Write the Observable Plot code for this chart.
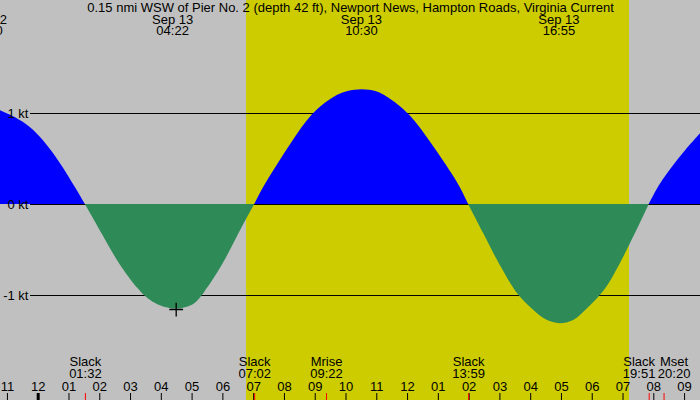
<!DOCTYPE html>
<html><head><meta charset="utf-8">
<script src="https://cdn.jsdelivr.net/npm/d3@7"></script>
<script src="https://cdn.jsdelivr.net/npm/@observablehq/plot@0.6"></script>
<style>html,body{margin:0;padding:0;background:#c0c0c0;overflow:hidden}</style>
</head><body><div id="chart"></div>
<script>
const title = "0.15 nmi WSW of Pier No. 2 (depth 42 ft), Newport News, Hampton Roads, Virginia Current";

// time in hours relative to Sep 13 00:00 (negative = Sep 12), current speed in knots
const times  = [-1.225, -0.25, 0.617, 1.267, 1.533,
                2.079, 2.674, 3.398, 3.811, 4.0, 4.483, 4.95, 5.11, 5.348, 5.978, 6.51, 7.033,
                7.44, 8.25, 8.87, 9.659, 10.05, 10.526, 11.0, 11.284, 12.095, 12.745, 13.613, 13.983,
                14.477, 14.913, 15.289, 15.582, 16.101, 16.48, 16.968, 17.45, 17.781, 18.291, 18.626, 18.973, 19.405, 19.85,
                20.2, 20.598, 21.03, 21.517];
const speeds = [1.03, 0.887, 0.52, 0.154, 0,
                -0.322, -0.689, -1.0, -1.091, -1.12, -1.163, -1.12, -1.091, -1.0, -0.689, -0.322, 0,
                0.264, 0.685, 1.0, 1.198, 1.245, 1.27, 1.245, 1.198, 1.0, 0.685, 0.264, 0,
                -0.322, -0.615, -0.835, -1.0, -1.165, -1.279, -1.325, -1.28, -1.165, -1.0, -0.835, -0.615, -0.322, 0,
                0.227, 0.41, 0.593, 0.777];

// visible time window
const timeDomain = [-1.225, 21.517];
const speedDomain = [-2.1538, 2.2418];

// daylight
const sunrise = 6.768, sunset = 19.211;

// reference lines
const refLines = [1, 0, -1];
const refLabels = ["1 kt", "0 kt", "-1 kt"];

// hour ticks
const hourValues = [-1,0,1,2,3,4,5,6,7,8,9,10,11,12,13,14,15,16,17,18,19,20,21];
const hourLabels = ["11","12","01","02","03","04","05","06","07","08","09","10","11","12","01","02","03","04","05","06","07","08","09"];

// max current labels (top)
const maxTimes  = [-1.683, 4.367, 10.5, 16.917];
const maxDates  = ["Sep 12", "Sep 13", "Sep 13", "Sep 13"];
const maxLabels = ["22:20", "04:22", "10:30", "16:55"];

// events (bottom)
const eventTimes  = [1.533, 7.033, 9.367, 13.983, 19.85, 20.333];
const eventNames  = ["Slack", "Slack", "Mrise", "Slack", "Slack", "Mset"];
const eventLabels = ["01:32", "07:02", "09:22", "13:59", "19:51", "20:20"];

// marker
const markerTime = 4.483, markerSpeed = -1.154;

// ---- build segments between slacks
const data = [];
let seg = 0;
times.forEach((t, i) => {
  data.push({t, v: speeds[i], seg});
  if (speeds[i] === 0 && i > 0 && i < times.length - 1) {
    seg++;
    data.push({t, v: speeds[i], seg});
  }
});
const segSign = {};
data.forEach(d => { if (d.v !== 0) segSign[d.seg] = Math.sign(d.v); });
const flood = data.filter(d => segSign[d.seg] > 0);
const ebb = data.filter(d => segSign[d.seg] < 0);

// event label positions, pushed apart when overlapping
const pxPerHour = 700 / (timeDomain[1] - timeDomain[0]);
const minGap = 35 / pxPerHour;
const events = eventTimes.map((t, i) => ({t, lx: t, name: eventNames[i], label: eventLabels[i]}));
for (let i = 1; i < events.length; i++) {
  const gap = events[i].lx - events[i-1].lx;
  if (gap < minGap) {
    const s = (minGap - gap) / 2;
    events[i-1].lx -= s;
    events[i].lx += s;
  }
}
const maxes = maxTimes.map((t, i) => ({t, date: maxDates[i], label: maxLabels[i]}));
const hours = hourValues.map((h, i) => ({h, label: hourLabels[i]}));
const refs = refLines.map((v, i) => ({v, label: refLabels[i]}));

const font = "Liberation Sans, Arial, sans-serif";
const fs = 13;

const chart = Plot.plot({
  width: 700, height: 400,
  margin: 0,
  style: {background: "#c0c0c0", fontFamily: font, fontSize: "13px"},
  x: {domain: timeDomain, axis: null},
  y: {domain: speedDomain, axis: null},
  marks: [
    Plot.frame({fill: "#c0c0c0", stroke: null}),
    Plot.rect([{a: sunrise, b: sunset}], {x1: "a", x2: "b", fill: "#cccc00"}),
    Plot.ruleY(refs, {y: "v", stroke: "black", insetLeft: 30}),
    Plot.areaY(flood, {x: "t", y: "v", z: "seg", fill: "#0000ff", curve: "basis"}),
    Plot.ruleY([0], {stroke: "black", insetLeft: 30}),
    Plot.areaY(ebb, {x: "t", y: "v", z: "seg", fill: "#2e8b57", curve: "basis"}),
    Plot.dot([{t: markerTime, v: markerSpeed}], {x: "t", y: "v", symbol: "plus", r: 4.5, stroke: "black", strokeWidth: 1.3}),
    Plot.text(refs, {y: "v", text: "label", frameAnchor: "left", dx: 28, textAnchor: "end", lineAnchor: "middle", fill: "black", fontSize: fs, fontFamily: font}),
    Plot.text([title], {text: d => d, frameAnchor: "top", dy: 2.5, lineAnchor: "top", fill: "black", fontSize: fs, fontFamily: font}),
    Plot.text(maxes, {x: "t", text: d => d.date + "\n" + d.label, frameAnchor: "top", dy: 15.1, lineAnchor: "top", lineHeight: 0.88, fill: "black", fontSize: fs, fontFamily: font}),
    Plot.text(events, {x: "lx", text: d => d.name + "\n" + d.label, frameAnchor: "top", dy: 357.5, lineAnchor: "top", lineHeight: 0.89, fill: "black", fontSize: fs, fontFamily: font}),
    Plot.text(hours, {x: "h", text: "label", frameAnchor: "top", dy: 380.8, lineAnchor: "top", fill: "black", fontSize: fs, fontFamily: font}),
    Plot.tickX(hours.filter(d => d.h !== 0), {x: "h", stroke: "black", insetTop: 393}),
    Plot.tickX(hours.filter(d => d.h === 0), {x: "h", stroke: "black", strokeWidth: 3, insetTop: 393}),
    Plot.tickX(events, {x: "t", stroke: "red", insetTop: 393})
  ]
});
document.getElementById("chart").appendChild(chart);
</script>
</body></html>
